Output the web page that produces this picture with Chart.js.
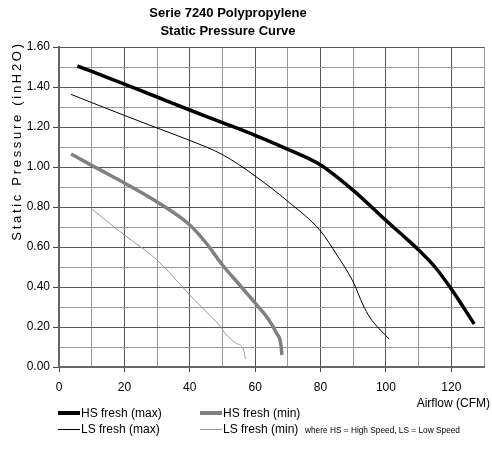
<!DOCTYPE html>
<html><head><meta charset="utf-8">
<script src="https://cdn.jsdelivr.net/npm/chart.js@4.4.1/dist/chart.umd.min.js"></script>
<style>
html,body{margin:0;padding:0;background:#fff;overflow:hidden}
#wrap{position:relative;width:492px;height:459px}
#c{position:absolute;left:0;top:0}
.li{position:absolute;height:16px;font:12px "Liberation Sans",Arial,sans-serif;color:#000;white-space:nowrap;display:flex;align-items:center}
.sw{display:inline-block;width:22px;margin-right:1px}
#note{position:absolute;left:305px;font:8.3px "Liberation Sans",Arial,sans-serif;color:#000;white-space:nowrap}
</style></head><body>
<div id="wrap"><canvas id="c" width="492" height="459"></canvas><div id="legend"></div></div>
<script>
// ---- data ----
const titleLines = ['Serie 7240 Polypropylene', 'Static Pressure Curve'];
const yAxisTitle = 'Static Pressure (inH2O)';
const xAxisTitle = 'Airflow (CFM)';
const noteText = 'where HS = High Speed, LS = Low Speed';
const seriesNames = ['HS fresh (max)', 'HS fresh (min)', 'LS fresh (max)', 'LS fresh (min)'];

const hsMaxX = [5.6, 10, 20, 30, 40, 50, 60, 70, 80, 90, 100, 105, 110, 115, 120, 127];
const hsMaxY = [1.505, 1.478, 1.414, 1.35, 1.285, 1.222, 1.158, 1.088, 1.01, 0.883, 0.733, 0.66, 0.585, 0.5, 0.39, 0.215];

const hsMinX = [3.7, 10, 20, 30, 40, 45, 50, 55, 60, 64, 66.5, 67.8, 68.2];
const hsMinY = [1.065, 1.008, 0.92, 0.825, 0.71, 0.62, 0.51, 0.415, 0.32, 0.24, 0.17, 0.12, 0.06];

const lsMaxX = [3.7, 10, 20, 30, 40, 50, 60, 70, 80, 85, 90, 93, 95, 98, 101];
const lsMaxY = [1.363, 1.322, 1.258, 1.195, 1.133, 1.062, 0.955, 0.828, 0.68, 0.56, 0.425, 0.31, 0.25, 0.19, 0.14];

const lsMinX = [10, 20, 30, 35, 40, 45, 49, 51, 54, 56.5, 57];
const lsMinY = [0.79, 0.66, 0.535, 0.45, 0.36, 0.277, 0.21, 0.165, 0.12, 0.085, 0.04];

const xTickLabels = [0, 20, 40, 60, 80, 100, 120];
const yTickLabels = ['0.00', '0.20', '0.40', '0.60', '0.80', '1.00', '1.20', '1.40', '1.60'];

// ---- build ----
const FONT = '"Liberation Sans", Arial, sans-serif';
function pts(xs, ys) { return xs.map((x, i) => ({ x: x, y: ys[i] })); }
const styles = [
  { color: '#000000', width: 3.5 },
  { color: '#808080', width: 3.5 },
  { color: '#000000', width: 1 },
  { color: '#999999', width: 1 }
];
const series = [pts(hsMaxX, hsMaxY), pts(hsMinX, hsMinY), pts(lsMaxX, lsMaxY), pts(lsMinX, lsMinY)];
const datasets = series.map((d, i) => ({
  label: seriesNames[i], data: d, showLine: true,
  borderColor: styles[i].color, backgroundColor: styles[i].color,
  borderWidth: styles[i].width, pointRadius: 0, pointHoverRadius: 0,
  cubicInterpolationMode: 'monotone', fill: false
}));

const isMajorX = v => Math.round(v) % 20 === 0;
const isMajorY = v => Math.round(v * 10) % 2 === 0;

const textPlugin = {
  id: 'texts',
  afterDraw(chart) {
    const ctx = chart.ctx;
    ctx.save();
    ctx.fillStyle = '#000';
    ctx.textBaseline = 'middle';
    ctx.textAlign = 'center';
    ctx.font = 'bold 13px ' + FONT;
    ctx.fillText(titleLines[0], 228, 13);
    ctx.fillText(titleLines[1], 228, 31);
    ctx.font = '12px ' + FONT;
    ctx.textAlign = 'right';
    ctx.fillText(xAxisTitle, 490, 404);
    ctx.textAlign = 'center';
    ctx.translate(17, 141);
    ctx.rotate(-Math.PI / 2);
    ctx.font = '13px ' + FONT;
    if ('letterSpacing' in ctx) ctx.letterSpacing = '2.7px';
    ctx.fillText(yAxisTitle, 0, 0);
    ctx.restore();
  }
};

new Chart(document.getElementById('c'), {
  type: 'scatter',
  data: { datasets: datasets },
  options: {
    responsive: false, animation: false,
    layout: { padding: { top: 47, right: 7, left: 0, bottom: 0 } },
    plugins: { legend: { display: false }, tooltip: { enabled: false }, title: { display: false } },
    scales: {
      x: {
        type: 'linear', min: 0, max: 130,
        afterFit: s => { s.height = 92; },
        ticks: {
          stepSize: 10, autoSkip: false, maxRotation: 0, padding: 8,
          color: '#000', font: { family: FONT, size: 12 },
          callback: v => (isMajorX(v) && xTickLabels.includes(Math.round(v))) ? String(Math.round(v)) : ''
        },
        grid: {
          color: c => isMajorX(c.tick.value) ? '#555' : '#999',
          tickColor: c => isMajorX(c.tick.value) ? '#444' : 'rgba(0,0,0,0)',
          tickLength: 5, lineWidth: 1
        },
        border: { display: true, color: '#666', width: 2 }
      },
      y: {
        type: 'linear', min: 0, max: 1.6,
        afterFit: s => { s.width = 59; },
        ticks: {
          stepSize: 0.1, autoSkip: false, padding: 3,
          color: '#000', font: { family: FONT, size: 12 },
          callback: v => {
            const k = Math.round(v * 10);
            return (k % 2 === 0) ? yTickLabels[k / 2] : '';
          }
        },
        grid: {
          color: c => isMajorY(c.tick.value) ? '#555' : '#999',
          tickColor: c => isMajorY(c.tick.value) ? '#444' : 'rgba(0,0,0,0)',
          tickLength: 6, lineWidth: 1
        },
        border: { display: true, color: '#666', width: 2 }
      }
    }
  },
  plugins: [textPlugin]
});

// ---- legend (HTML) ----
const legend = document.getElementById('legend');
const legPos = [[58, 413], [200, 413], [58, 429], [200, 429]];
seriesNames.forEach((n, i) => {
  const d = document.createElement('div');
  d.className = 'li';
  d.style.left = legPos[i][0] + 'px';
  d.style.top = (legPos[i][1] - 8) + 'px';
  const sw = document.createElement('span');
  sw.className = 'sw';
  sw.style.height = styles[i].width + 'px';
  sw.style.background = styles[i].color;
  d.appendChild(sw);
  d.appendChild(document.createTextNode(n));
  legend.appendChild(d);
});
const note = document.createElement('div');
note.id = 'note';
note.style.top = (429 - 4) + 'px';
note.textContent = noteText;
legend.appendChild(note);
</script>
</body></html>
